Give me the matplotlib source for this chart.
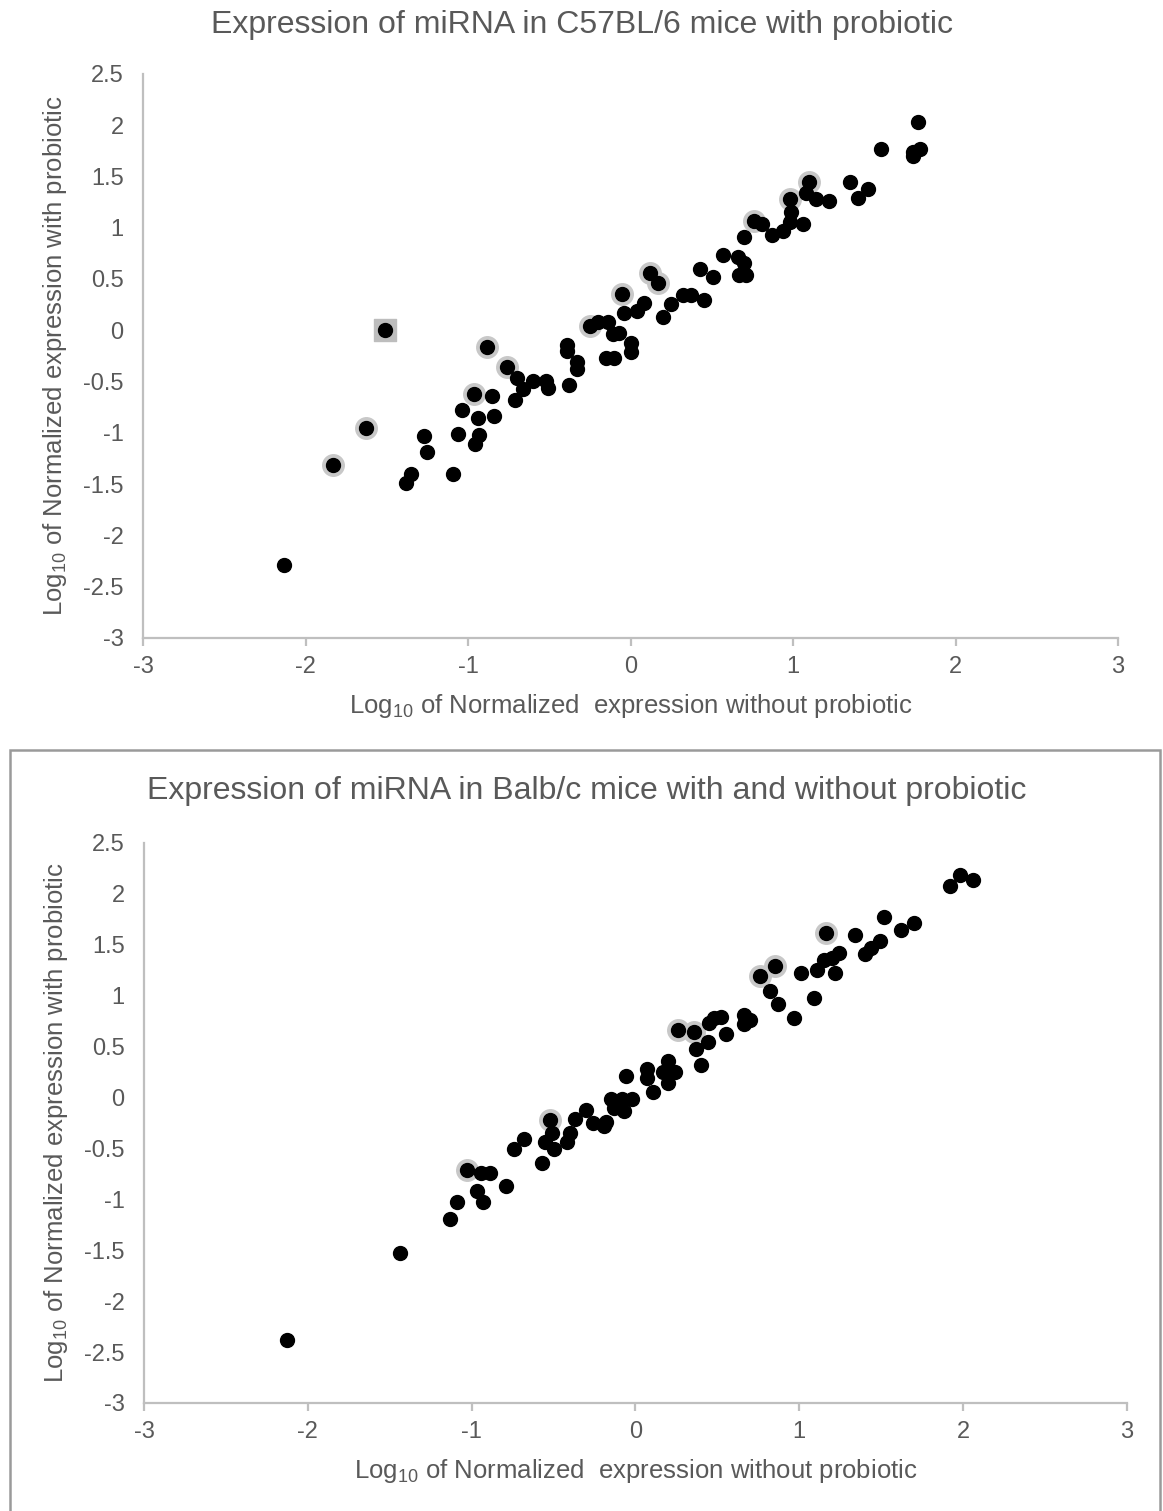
import matplotlib
matplotlib.use("Agg")
import matplotlib.pyplot as plt
from matplotlib.patches import Rectangle

plt.rcParams['font.family'] = ['Liberation Sans', 'DejaVu Sans']
plt.rcParams['mathtext.fontset'] = 'custom'
plt.rcParams['mathtext.rm'] = 'Liberation Sans'

# C57BL/6 panel
top_x = [-2.135, -1.385, -1.35, -1.27, -1.25, -1.095, -1.065, -1.035, -0.94, -0.93, -0.96,
         -0.85, -0.84, -0.70, -0.71, -0.66, -0.60, -0.52, -0.51, -0.38, -0.39, -0.39, -0.33,
         -0.33, -0.20, -0.14, -0.11, -0.07, -0.15, -0.10, 0.0, 0.0, -0.04, 0.04, 0.08, 0.20,
         0.25, 0.32, 0.37, 0.45, 0.43, 0.51, 0.57, 0.66, 0.70, 0.67, 0.71, 0.70, 0.81, 0.87,
         0.94, 0.99, 0.98, 1.06, 1.08, 1.14, 1.22, 1.35, 1.40, 1.46, 1.54, 1.77, 1.74, 1.78, 1.74]
top_y = [-2.29, -1.49, -1.40, -1.03, -1.19, -1.40, -1.01, -0.78, -0.86, -1.02, -1.11,
         -0.64, -0.84, -0.47, -0.68, -0.57, -0.49, -0.49, -0.56, -0.53, -0.14, -0.20, -0.31,
         -0.38, 0.08, 0.08, -0.04, -0.03, -0.27, -0.27, -0.12, -0.21, 0.17, 0.19, 0.27, 0.13,
         0.26, 0.34, 0.34, 0.30, 0.60, 0.52, 0.73, 0.71, 0.66, 0.54, 0.54, 0.91, 1.04, 0.93,
         0.97, 1.15, 1.06, 1.04, 1.34, 1.28, 1.26, 1.45, 1.29, 1.38, 1.77, 2.03, 1.74, 1.77, 1.70]
top_hl_x = [-1.834, -1.63, -0.966, -0.886, -0.763, -0.25, -0.05, 0.12, 0.17, 0.76, 0.98, 1.10]
top_hl_y = [-1.31, -0.95, -0.62, -0.16, -0.36, 0.04, 0.35, 0.56, 0.46, 1.07, 1.28, 1.45]
top_sq_x = [-1.51]
top_sq_y = [0.0]

# Balb/c panel
bot_x = [-2.125, -1.44, -1.13, -1.09, -0.94, -0.885, -0.97, -0.93, -0.79, -0.74, -0.68, -0.57,
         -0.51, -0.55, -0.50, -0.42, -0.40, -0.37, -0.30, -0.26, -0.19, -0.18, -0.15, -0.085,
         -0.02, -0.13, -0.07, -0.055, 0.07, 0.07, 0.11, 0.17, 0.24, 0.20, 0.20, 0.37, 0.40,
         0.44, 0.45, 0.48, 0.525, 0.55, 0.665, 0.70, 0.665, 0.82, 0.87, 0.97, 1.01, 1.09, 1.11,
         1.15, 1.20, 1.24, 1.22, 1.34, 1.40, 1.44, 1.49, 1.52, 1.62, 1.70, 1.92, 1.98, 2.06]
bot_y = [-2.38, -1.53, -1.19, -1.03, -0.74, -0.74, -0.92, -1.03, -0.87, -0.51, -0.41, -0.64,
         -0.35, -0.44, -0.51, -0.44, -0.35, -0.21, -0.12, -0.25, -0.28, -0.24, -0.01, -0.01,
         -0.01, -0.10, -0.13, 0.21, 0.28, 0.19, 0.05, 0.25, 0.25, 0.36, 0.14, 0.48, 0.32,
         0.55, 0.73, 0.78, 0.79, 0.62, 0.81, 0.76, 0.72, 1.05, 0.92, 0.78, 1.22, 0.98, 1.25,
         1.35, 1.37, 1.42, 1.22, 1.60, 1.41, 1.47, 1.54, 1.77, 1.65, 1.71, 2.08, 2.19, 2.14]
bot_hl_x = [-1.03, -0.52, 0.26, 0.36, 0.76, 0.85, 1.16]
bot_hl_y = [-0.71, -0.22, 0.66, 0.64, 1.19, 1.29, 1.62]

ticks_x = [-3, -2, -1, 0, 1, 2, 3]
ticks_y = [-3, -2.5, -2, -1.5, -1, -0.5, 0, 0.5, 1, 1.5, 2, 2.5]
tick_labels_y = ['-3', '-2.5', '-2', '-1.5', '-1', '-0.5', '0', '0.5', '1', '1.5', '2', '2.5']

text_color = '#595959'
spine_color = '#bfbfbf'
xlabel = 'Log$_{\\mathregular{10}}$ of Normalized  expression without probiotic'
ylabel = 'Log$_{\\mathregular{10}}$ of Normalized expression with probiotic'


def style_axes(ax):
    ax.set_xlim(-3, 3)
    ax.set_ylim(-3, 2.5)
    ax.set_xticks(ticks_x)
    ax.set_xticklabels([str(t) for t in ticks_x])
    ax.set_yticks(ticks_y)
    ax.set_yticklabels(tick_labels_y)
    for side in ['top', 'right']:
        ax.spines[side].set_visible(False)
    for side in ['left', 'bottom']:
        ax.spines[side].set_color(spine_color)
        ax.spines[side].set_linewidth(1.6)
    ax.tick_params(axis='x', direction='out', length=6, width=1.6, color=spine_color,
                   labelsize=17, labelcolor=text_color, pad=7)
    ax.tick_params(axis='y', length=0, labelsize=17, labelcolor=text_color, pad=14)
    ax.set_xlabel(xlabel, fontsize=18.5, color=text_color, labelpad=10)
    ax.set_ylabel(ylabel, fontsize=18.5, color=text_color, labelpad=10)


fig = plt.figure(figsize=(11.63, 15.11), dpi=100)

# frame around the lower chart
fig.patches.append(Rectangle((10 / 1163, -0.01), 1150 / 1163, 1 - 750 / 1511 + 0.01,
                             transform=fig.transFigure, fill=False,
                             edgecolor='#9a9a9a', linewidth=1.8))

ax1 = fig.add_axes([0.1230, 0.5778, 0.8384, 0.3733])
ax1.scatter(top_sq_x, top_sq_y, s=260, marker='s', color='#bdbdbd', zorder=2)
ax1.scatter(top_hl_x, top_hl_y, s=240, color='#c8c8c8', zorder=2)
ax1.scatter(top_x + top_hl_x + top_sq_x, top_y + top_hl_y + top_sq_y, s=100, color='black', zorder=3)
style_axes(ax1)
fig.text(582 / 1163, 1 - 25 / 1511, 'Expression of miRNA in C57BL/6 mice with probiotic',
         ha='center', va='center', fontsize=23, color=text_color)

ax2 = fig.add_axes([0.1238, 0.0715, 0.8452, 0.3706])
ax2.scatter(bot_hl_x, bot_hl_y, s=240, color='#c8c8c8', zorder=2)
ax2.scatter(bot_x + bot_hl_x, bot_y + bot_hl_y, s=100, color='black', zorder=3)
style_axes(ax2)
fig.text(587 / 1163, 1 - 791 / 1511, 'Expression of miRNA in Balb/c mice with and without probiotic',
         ha='center', va='center', fontsize=23, color=text_color)

fig.savefig('out.png', dpi=100)
